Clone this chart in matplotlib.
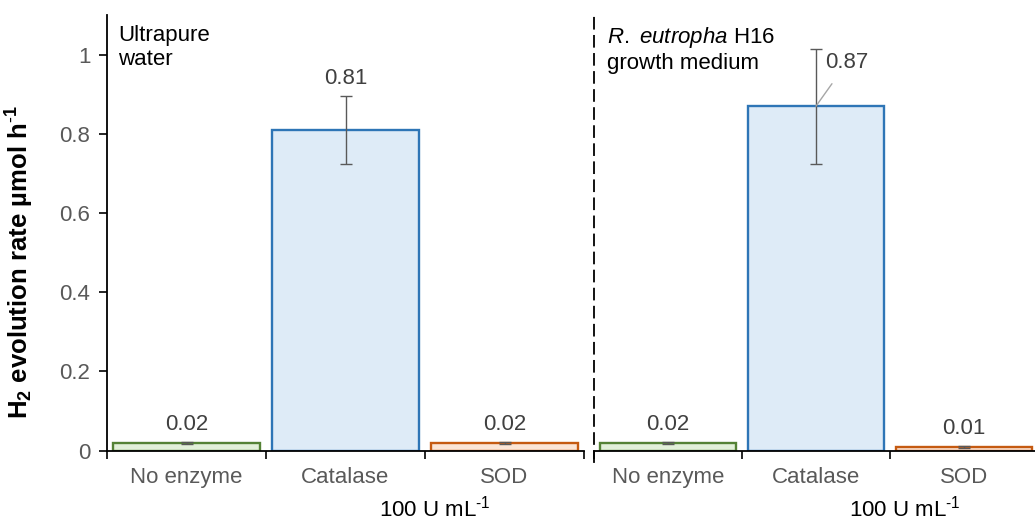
import numpy as np
import matplotlib.pyplot as plt

plt.rcParams['font.family'] = ['Liberation Sans', 'DejaVu Sans']
plt.rcParams['mathtext.fontset'] = 'custom'
plt.rcParams['mathtext.rm'] = 'Liberation Sans'
plt.rcParams['mathtext.it'] = 'Liberation Sans:italic'
plt.rcParams['mathtext.bf'] = 'Liberation Sans:bold'

categories = ['No enzyme', 'Catalase', 'SOD']
water_vals = [0.02, 0.81, 0.02]
water_err = [0.003, 0.086, 0.002]
medium_vals = [0.02, 0.87, 0.01]
medium_err = [0.002, 0.145, 0.002]
value_labels_water = ['0.02', '0.81', '0.02']
value_labels_medium = ['0.02', '0.87', '0.01']
yticks = [0, 0.2, 0.4, 0.6, 0.8, 1.0]
ytick_labels = ['0', '0.2', '0.4', '0.6', '0.8', '1']

edge_colors = ['#548235', '#2E75B6', '#C55A11']
face_colors = ['#E2F0D9', '#DEEBF7', '#FBE5D6']
gray = '#595959'
fs = 16

fig = plt.figure(figsize=(10.35, 5.21), dpi=100)
ax1 = fig.add_axes([107 / 1035, 70.3 / 521, 477 / 1035, 435.7 / 521])
ax2 = fig.add_axes([594 / 1035, 70.3 / 521, 444 / 1035, 435.7 / 521])

x = np.arange(len(categories))


def draw(ax, vals, errs, labels, skip_label=None):
    ax.bar(x, vals, width=0.92, color=face_colors, edgecolor=edge_colors,
           linewidth=1.7, zorder=2)
    ax.errorbar(x, vals, yerr=errs, fmt='none', ecolor=gray, elinewidth=1,
                capsize=4, capthick=1, zorder=3)
    for i, (v, e, t) in enumerate(zip(vals, errs, labels)):
        if i == skip_label:
            continue
        ax.annotate(t, (x[i], v + e), xytext=(0, 12.5), textcoords='offset points',
                    ha='center', va='center', fontsize=fs, color='#404040')
    ax.set_xlim(-0.5, 2.5)
    ax.set_ylim(0, 1.1)
    ax.set_xticks(x, categories, fontsize=fs, color=gray)
    ax.tick_params(axis='x', which='major', length=0, pad=12)
    ax.set_xticks([-0.5, 0.5, 1.5, 2.5], minor=True)
    ax.tick_params(axis='x', which='minor', length=6, width=1.2, direction='out')
    ax.spines['top'].set_visible(False)
    ax.spines['right'].set_visible(False)
    ax.spines['bottom'].set_linewidth(1.3)
    ax.spines['left'].set_linewidth(1.3)


draw(ax1, water_vals, water_err, value_labels_water)
draw(ax2, medium_vals, medium_err, value_labels_medium, skip_label=1)

ax1.set_yticks(yticks, ytick_labels, fontsize=fs, color=gray)
ax1.tick_params(axis='y', length=6, width=1.2, pad=6)
fig.text(20 / 1035, 1 - 262 / 521,
         r'H$_\mathbf{2}$ evolution rate µmol h$^{\mathbf{\text{-}1}}$',
         rotation=90, ha='center', va='center', fontsize=18.5, fontweight='bold')

ax2.set_yticks([])
ax2.spines['left'].set_linestyle((0, (6, 4)))
ax2.spines['left'].set_bounds(-0.028, 1.1)

# 0.87 label with leader line
ax2.annotate(value_labels_medium[1], xy=(1, medium_vals[1]), xytext=(1.21, 0.98),
             ha='center', va='center', fontsize=fs, color='#404040',
             arrowprops=dict(arrowstyle='-', color='#A6A6A6', lw=1,
                             shrinkA=7, shrinkB=0))

ax1.text(0.023, 0.978, 'Ultrapure\nwater', transform=ax1.transAxes,
         ha='left', va='top', fontsize=fs, linespacing=1.2)
ax2.text(0.029, 0.978, r'$\mathit{R.}$ $\mathit{eutropha}$ H16' + '\ngrowth medium',
         transform=ax2.transAxes, ha='left', va='top', fontsize=fs,
         linespacing=1.2)

fig.text(435 / 1035, 1 - 509 / 521, r'100 U mL$^{\text{-}1}$', ha='center',
         va='center', fontsize=fs)
fig.text(905 / 1035, 1 - 509 / 521, r'100 U mL$^{\text{-}1}$', ha='center',
         va='center', fontsize=fs)

fig.savefig('out.png', dpi=100)
